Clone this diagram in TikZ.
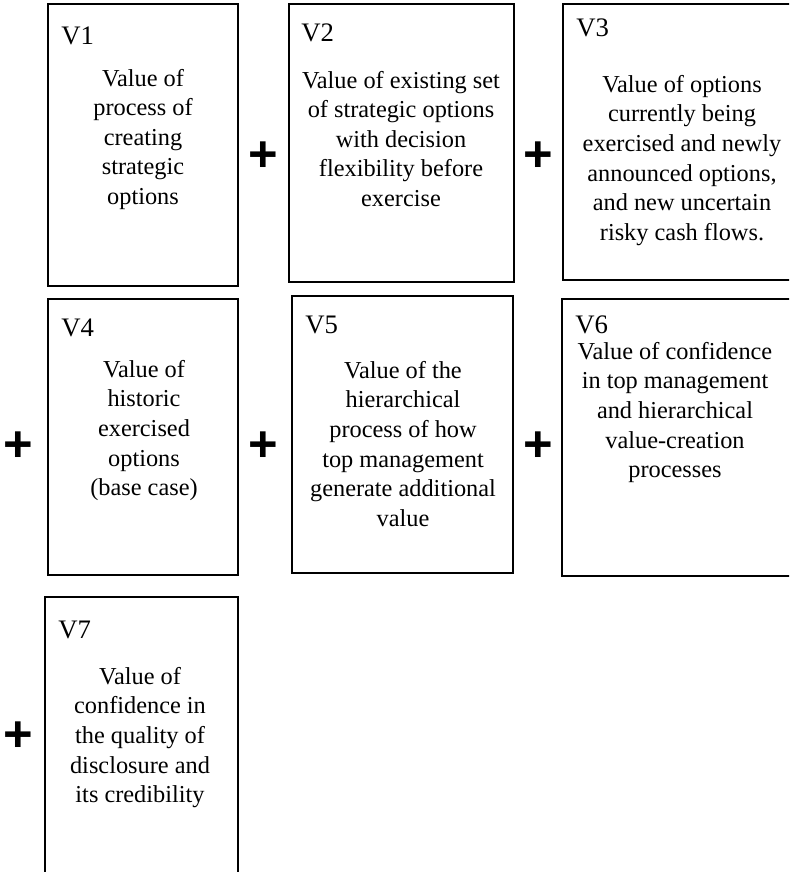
\documentclass[tikz,border=0pt]{standalone}
\usepackage{fontspec}
\setmainfont{Liberation Serif}
\newfontfamily\plusfont{Liberation Sans}
\usetikzlibrary{fit}

\begin{document}
\begin{tikzpicture}[x=0.025cm, y=-0.025cm,
    vbox/.style={draw=black, line width=1.8pt, inner sep=0pt},
    vlabel/.style={anchor=base west, inner sep=0pt, font=\fontsize{19}{22}\selectfont},
    vtext/.style={anchor=north, align=center, inner sep=0pt, font=\fontsize{17.3}{21}\selectfont},
    plus/.style={inner sep=0pt, font=\plusfont\bfseries\fontsize{36}{40}\selectfont}
  ]
  \useasboundingbox (0,0) rectangle (789,872);
  \clip (0,0) rectangle (789,872);

  % first row
  \node[vbox, fit={(48,4) (238,286)}] (v1) {};
  \node[vlabel] (v1l) at (61,45) {V1};
  \node[vtext] (v1t) at (143,69) {Value of\\process of\\creating\\strategic\\options};

  \node[vbox, fit={(289,4) (514,282)}] (v2) {};
  \node[vlabel] (v2l) at (301,42) {V2};
  \node[vtext] (v2t) at (401,71) {Value of existing set\\of strategic options\\with decision\\flexibility before\\exercise};

  \node[vbox, fit={(563,4) (800,280)}] (v3) {};
  \node[vlabel] (v3l) at (576,37) {V3};
  \node[vtext] (v3t) at (682,75) {Value of options\\currently being\\exercised and newly\\announced options,\\and new uncertain\\risky cash flows.};

  % second row
  \node[vbox, fit={(48,299) (238,575)}] (v4) {};
  \node[vlabel] (v4l) at (61,336) {V4};
  \node[vtext] (v4t) at (144,360) {Value of\\historic\\exercised\\options\\(base case)};

  \node[vbox, fit={(292,296) (513,573)}] (v5) {};
  \node[vlabel] (v5l) at (305,333) {V5};
  \node[vtext] (v5t) at (403,361) {Value of the\\hierarchical\\process of how\\top management\\generate additional\\value};

  \node[vbox, fit={(562,299) (795,576)}] (v6) {};
  \node[vlabel] (v6l) at (575,333) {V6};
  \node[vtext] (v6t) at (675,342) {Value of confidence\\in top management\\and hierarchical\\value-creation\\processes};

  % third row
  \node[vbox, fit={(45,597) (238,900)}] (v7) {};
  \node[vlabel] (v7l) at (58,638) {V7};
  \node[vtext] (v7t) at (140,667) {Value of\\confidence in\\the quality of\\disclosure and\\its credibility};

  % plus signs between the boxes
  \node[plus] (p12) at (263,157) {+};
  \node[plus] (p23) at (538,157) {+};
  \node[plus] (p34) at (18,447) {+};
  \node[plus] (p45) at (263,447) {+};
  \node[plus] (p56) at (538,447) {+};
  \node[plus] (p67) at (18,737) {+};
\end{tikzpicture}
\end{document}
